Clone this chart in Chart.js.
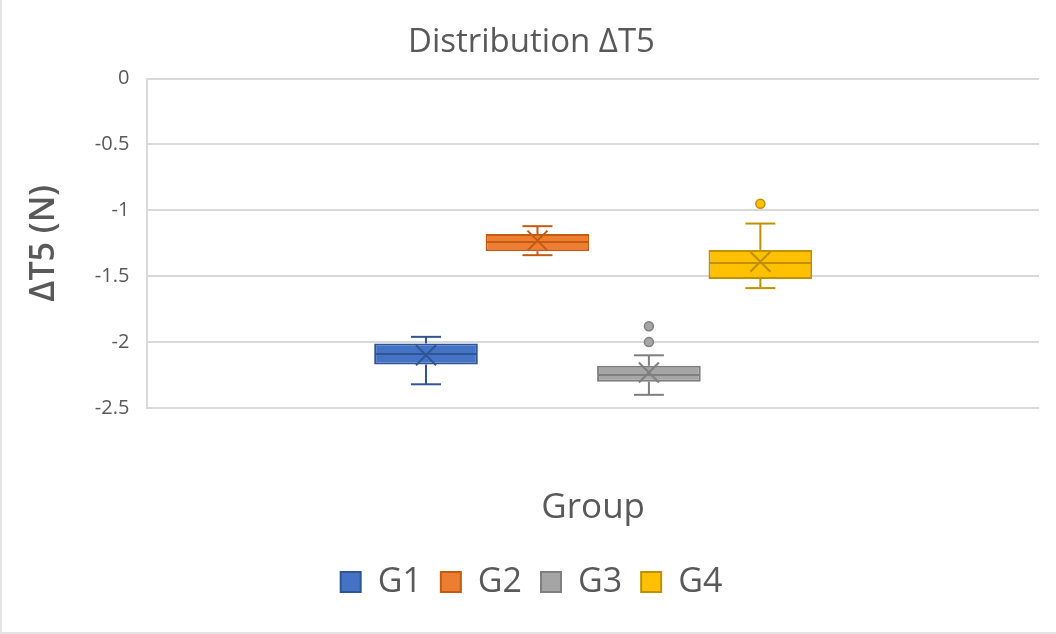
<!DOCTYPE html>
<html>
<head>
<meta charset="utf-8">
<script src="https://cdn.jsdelivr.net/npm/chart.js@4.4.1/dist/chart.umd.min.js"></script>
<style>
    body { margin: 0; background: #fff; }
    #contenedor { width: 1056px; height: 634px; }
</style>
</head>
<body>
<div id="contenedor"><canvas id="grafica" width="1056" height="634"></canvas></div>
<script>
// Datos (cuartiles de cada grupo)
const grupos = ['G1', 'G2', 'G3', 'G4'];
const valoresMin = [-2.32, -1.34, -2.40, -1.59];
const valoresQ1 = [-2.17, -1.31, -2.30, -1.52];
const valoresMediana = [-2.09, -1.24, -2.25, -1.40];
const valoresQ3 = [-2.01, -1.18, -2.18, -1.30];
const valoresMax = [-1.96, -1.12, -2.10, -1.10];
const valoresMedia = [-2.10, -1.23, -2.23, -1.39];
const valoresAtipicos = [[], [], [-1.88, -2.00], [-0.95]];
const ticksY = [0, -0.5, -1, -1.5, -2, -2.5];

const colores = ['#4472C4', '#ED7D31', '#A5A5A5', '#FFC000'];
const bordes = ['#2F5597', '#C55A11', '#7F7F7F', '#BF9000'];
const gris = '#595959';
const fuente = "'Open Sans', sans-serif";

// Fondo y marco del grafico
const marco = {
    id: 'marco',
    beforeDraw: function (chart) {
        let ctx = chart.ctx;
        ctx.save();
        ctx.fillStyle = '#ffffff';
        ctx.fillRect(0, 0, chart.width, chart.height);
        ctx.strokeStyle = '#e3e3e3';
        ctx.lineWidth = 2;
        ctx.beginPath();
        ctx.moveTo(1, 0);
        ctx.lineTo(1, chart.height - 1);
        ctx.lineTo(chart.width, chart.height - 1);
        ctx.stroke();
        ctx.restore();
    }
};

// Bigotes, mediana, media y valores atipicos sobre cada caja
const detallesCaja = {
    id: 'detallesCaja',
    afterDatasetsDraw: function (chart) {
        let ctx = chart.ctx;
        let escalaY = chart.scales.y;

        function linea(x1, y1, x2, y2) {
            ctx.beginPath();
            ctx.moveTo(x1, y1);
            ctx.lineTo(x2, y2);
            ctx.stroke();
        }

        chart.data.datasets.forEach(function (dataset, i) {
            let barra = chart.getDatasetMeta(i).data[0];
            let x = barra.x;
            let medio = barra.width / 2;
            let pMin = escalaY.getPixelForValue(valoresMin[i]);
            let pQ1 = escalaY.getPixelForValue(valoresQ1[i]);
            let pMed = escalaY.getPixelForValue(valoresMediana[i]);
            let pQ3 = escalaY.getPixelForValue(valoresQ3[i]);
            let pMax = escalaY.getPixelForValue(valoresMax[i]);
            let pMedia = escalaY.getPixelForValue(valoresMedia[i]);

            ctx.save();
            ctx.strokeStyle = bordes[i];
            ctx.lineWidth = 2;

            linea(x, pQ3, x, pMax);
            linea(x, pQ1, x, pMin);
            linea(x - 15, pMax, x + 15, pMax);
            linea(x - 15, pMin, x + 15, pMin);
            linea(x - medio + 1, pMed, x + medio - 1, pMed);

            // Marca de la media
            linea(x - 10, pMedia - 10, x + 10, pMedia + 10);
            linea(x - 10, pMedia + 10, x + 10, pMedia - 10);

            valoresAtipicos[i].forEach(function (valor) {
                ctx.beginPath();
                ctx.arc(x, escalaY.getPixelForValue(valor), 4.5, 0, Math.PI * 2);
                ctx.fillStyle = colores[i];
                ctx.fill();
                ctx.lineWidth = 1.5;
                ctx.stroke();
            });
            ctx.restore();
        });
    }
};

new Chart(document.getElementById('grafica').getContext('2d'), {
    type: 'bar',
    data: {
        labels: [''],
        datasets: grupos.map(function (grupo, i) {
            return {
                label: grupo,
                data: [[valoresQ1[i], valoresQ3[i]]],
                backgroundColor: colores[i],
                borderColor: bordes[i],
                borderWidth: 2,
                borderSkipped: false,
                categoryPercentage: 0.5,
                barPercentage: 0.93
            };
        })
    },
    options: {
        responsive: false,
        animation: false,
        layout: {
            padding: { left: 24, right: 17, top: 0, bottom: 25 }
        },
        plugins: {
            title: {
                display: true,
                text: 'Distribution ΔT5',
                color: gris,
                font: { family: fuente, size: 33, weight: 'normal' },
                padding: { top: 23, bottom: 16 }
            },
            legend: {
                position: 'bottom',
                labels: {
                    boxWidth: 20,
                    boxHeight: 20,
                    color: gris,
                    padding: 19,
                    font: { family: fuente, size: 34 }
                }
            },
            tooltip: { enabled: false }
        },
        scales: {
            x: {
                grid: { display: false },
                border: { display: false },
                ticks: { display: false },
                title: {
                    display: true,
                    text: 'Group',
                    color: gris,
                    font: { family: fuente, size: 35 },
                    padding: { top: 71, bottom: 17 }
                }
            },
            y: {
                min: -2.5,
                max: 0,
                afterBuildTicks: function (escala) {
                    escala.ticks = ticksY.map(function (v) { return { value: v }; });
                },
                grid: { color: '#d9d9d9', lineWidth: 2, drawTicks: false },
                border: { color: '#d9d9d9', width: 2 },
                ticks: {
                    color: gris,
                    padding: 18,
                    font: { family: fuente, size: 20 },
                    callback: function (valor) { return String(valor); }
                },
                title: {
                    display: true,
                    text: 'ΔT5 (N)',
                    color: gris,
                    font: { family: fuente, size: 34, weight: '600' },
                    padding: { top: 0, bottom: 12 }
                }
            }
        }
    },
    plugins: [marco, detallesCaja]
});
</script>
</body>
</html>
